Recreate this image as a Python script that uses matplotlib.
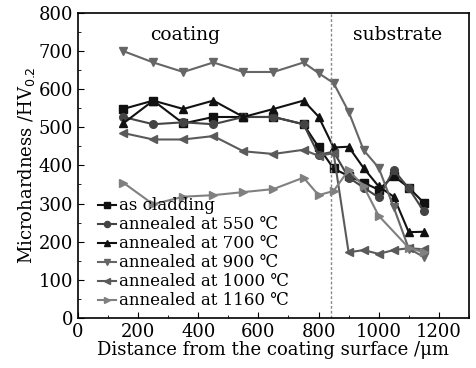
import matplotlib
matplotlib.use('Agg')
from matplotlib import pyplot as plt
from matplotlib.ticker import MultipleLocator

plt.rcParams['font.family'] = ['DejaVu Serif', 'DejaVu Sans']

# distance from coating surface (um)
x_main = [150, 250, 350, 450, 550, 650, 750, 800, 850, 900, 950, 1000, 1050, 1100, 1150]
x_1160 = [150, 250, 350, 450, 550, 650, 750, 800, 850, 900, 950, 1000, 1100, 1150]

as_cladding = [548, 570, 510, 527, 527, 527, 508, 448, 392, 372, 355, 336, 372, 342, 302]
ann_550 = [527, 508, 513, 508, 527, 527, 508, 428, 436, 368, 342, 316, 388, 340, 280]
ann_700 = [510, 570, 548, 570, 527, 548, 570, 528, 447, 449, 393, 345, 318, 225, 226]
ann_900 = [700, 670, 645, 670, 645, 645, 670, 642, 616, 541, 440, 394, 290, 182, 160]
ann_1000 = [485, 468, 468, 477, 437, 430, 441, 425, 432, 172, 178, 168, 178, 183, 180]
ann_1160 = [355, 298, 318, 322, 330, 338, 368, 322, 333, 388, 345, 268, 184, 172]

labels = ['as cladding', 'annealed at 550 \u2103', 'annealed at 700 \u2103',
          'annealed at 900 \u2103', 'annealed at 1000 \u2103', 'annealed at 1160 \u2103']

fig = plt.figure(figsize=(4.76, 3.68), dpi=100)
ax = fig.add_axes([0.164, 0.136, 0.821, 0.829])

series = [
    (x_main, as_cladding, 's', '#111111'),
    (x_main, ann_550, 'o', '#444444'),
    (x_main, ann_700, '^', '#111111'),
    (x_main, ann_900, 'v', '#666666'),
    (x_main, ann_1000, '<', '#5a5a5a'),
    (x_1160, ann_1160, '>', '#808080'),
]
for (xs, ys, mk, col), lab in zip(series, labels):
    ax.plot(xs, ys, marker=mk, color=col, ms=5.5, lw=1.5, label=lab)

ax.axvline(840, color='#888888', ls=(0, (2, 1.5)), lw=1)

ax.text(356, 743, 'coating', ha='center', va='center', fontsize=13.5)
ax.text(1064, 743, 'substrate', ha='center', va='center', fontsize=13.5)

ax.set_xlim(0, 1300)
ax.set_ylim(0, 800)
ax.xaxis.set_major_locator(MultipleLocator(200))
ax.xaxis.set_minor_locator(MultipleLocator(100))
ax.yaxis.set_major_locator(MultipleLocator(100))
ax.yaxis.set_minor_locator(MultipleLocator(50))
ax.tick_params(which='both', direction='in', labelsize=13)
ax.tick_params(which='major', length=4)
ax.tick_params(which='minor', length=2)
for s in ax.spines.values():
    s.set_linewidth(1.2)

ax.set_xlabel('Distance from the coating surface /\u03bcm', fontsize=13, labelpad=0)
ax.set_ylabel('Microhardness /HV$_{0.2}$', fontsize=13, labelpad=1)

ax.legend(loc='lower left', bbox_to_anchor=(0.02, -0.01), frameon=False, fontsize=12,
          handlelength=1.1, handletextpad=0.2, labelspacing=0.12, borderpad=0.2,
          markerscale=0.8)

fig.savefig('out.png', dpi=100)
